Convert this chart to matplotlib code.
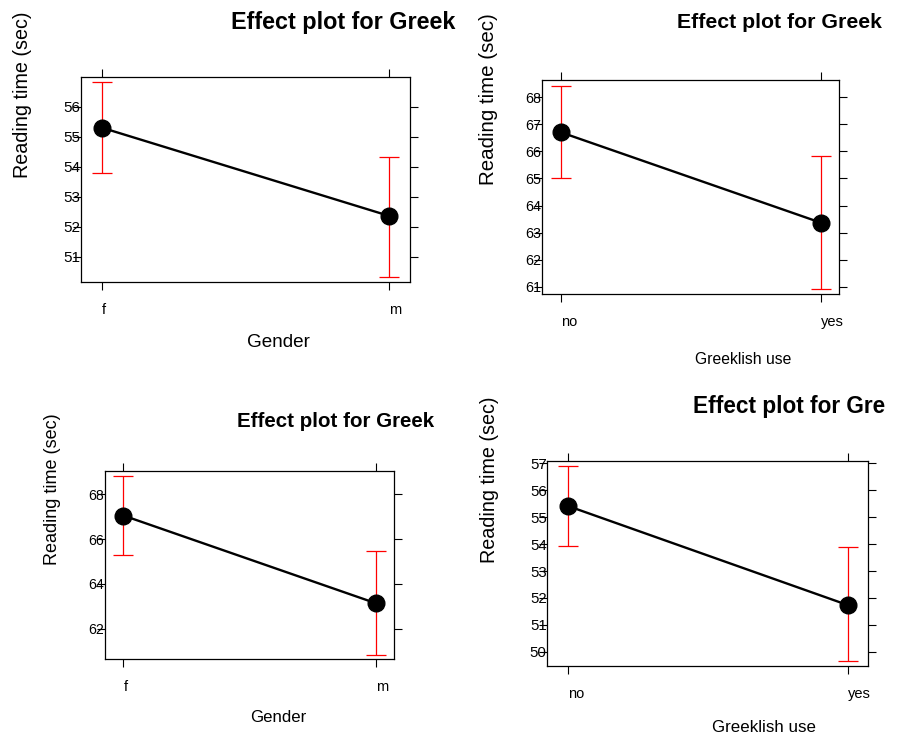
import numpy as np
import matplotlib
matplotlib.use("Agg")
import matplotlib.pyplot as plt

plt.rcParams['font.family'] = ['Liberation Sans', 'DejaVu Sans']

# data
gender = ['f', 'm']
greeklish = ['no', 'yes']

est1 = [55.30, 52.36]
lo1 = [53.80, 50.34]
hi1 = [56.83, 54.33]

est2 = [66.71, 63.37]
lo2 = [65.00, 60.90]
hi2 = [68.43, 65.83]

est3 = [67.05, 63.13]
lo3 = [65.30, 60.83]
hi3 = [68.82, 65.48]

est4 = [55.42, 51.73]
lo4 = [53.93, 49.65]
hi4 = [56.90, 53.88]

yticks1 = [51, 52, 53, 54, 55, 56]
yticks2 = [61, 62, 63, 64, 65, 66, 67, 68]
yticks3 = [62, 64, 66, 68]
yticks4 = [50, 51, 52, 53, 54, 55, 56, 57]

W, H = 898, 738
fig = plt.figure(figsize=(W / 100, H / 100), dpi=100)


def px(x, y):
    return x / W, 1 - y / H


def panel(box, cats, est, lo, hi, yt, ylim, ytick_fs):
    l, t, r, b = box
    ax = fig.add_axes([l / W, 1 - b / H, (r - l) / W, (b - t) / H])
    x = np.arange(len(cats))
    est = np.array(est)
    err = [est - np.array(lo), np.array(hi) - est]
    ax.errorbar(x, est, yerr=err, fmt='none', ecolor='#ff0000',
                elinewidth=0.9, capsize=7.5, capthick=0.9, zorder=2)
    ax.plot(x, est, color='black', lw=1.7, marker='o', markersize=12, zorder=3)
    ax.set_xlim(-0.073, 1.072)
    ax.set_ylim(*ylim)
    ax.set_xticks(x)
    ax.set_xticklabels(cats, fontsize=10.5, ha='left')
    ax.set_yticks(yt)
    ax.set_yticklabels([str(v) for v in yt], fontsize=ytick_fs)
    ax.tick_params(axis='x', direction='out', length=6, width=0.8,
                   top=True, bottom=True, pad=9)
    ax.tick_params(axis='y', direction='out', length=6, width=0.8,
                   left=True, right=True, pad=-5.5)
    for s in ax.spines.values():
        s.set_linewidth(0.9)
    return ax


panel((81, 76.7, 410, 281.7), gender, est1, lo1, hi1, yticks1,
      (50.17, 57.0), 11)
panel((541.7, 80, 839.3, 294.3), greeklish, est2, lo2, hi2, yticks2,
      (60.72, 68.64), 10.4)
panel((105, 471, 394.3, 659.3), gender, est3, lo3, hi3, yticks3,
      (60.63, 69.04), 10.2)
panel((547.3, 461, 868.3, 666), greeklish, est4, lo4, hi4, yticks4,
      (49.47, 57.09), 10.8)

# titles (the last one is cut off in the original image)
fig.text(*px(231, 23), 'Effect plot for Greek', fontsize=16.8,
         fontweight='bold', ha='left', va='center')
fig.text(*px(677, 23), 'Effect plot for Greek', fontsize=15.3,
         fontweight='bold', ha='left', va='center')
fig.text(*px(237, 421), 'Effect plot for Greek', fontsize=14.8,
         fontweight='bold', ha='left', va='center')
fig.text(*px(693, 406), 'Effect plot for Gre', fontsize=16.3,
         fontweight='bold', ha='left', va='center')

# y labels
fig.text(*px(23, 94.5), 'Reading time (sec)', fontsize=14.2,
         rotation=90, ha='center', va='center')
fig.text(*px(488, 99.5), 'Reading time (sec)', fontsize=14.8,
         rotation=90, ha='center', va='center')
fig.text(*px(52.7, 489), 'Reading time (sec)', fontsize=13,
         rotation=90, ha='center', va='center')
fig.text(*px(490, 480), 'Reading time (sec)', fontsize=14.2,
         rotation=90, ha='center', va='center')

# x labels
fig.text(*px(278, 343), 'Gender', fontsize=13.6, ha='center', va='center')
fig.text(*px(743, 360), 'Greeklish use', fontsize=11.3, ha='center', va='center')
fig.text(*px(278, 717), 'Gender', fontsize=12.1, ha='center', va='center')
fig.text(*px(764, 728), 'Greeklish use', fontsize=12.2, ha='center', va='center')

fig.savefig('out.png', dpi=100)
